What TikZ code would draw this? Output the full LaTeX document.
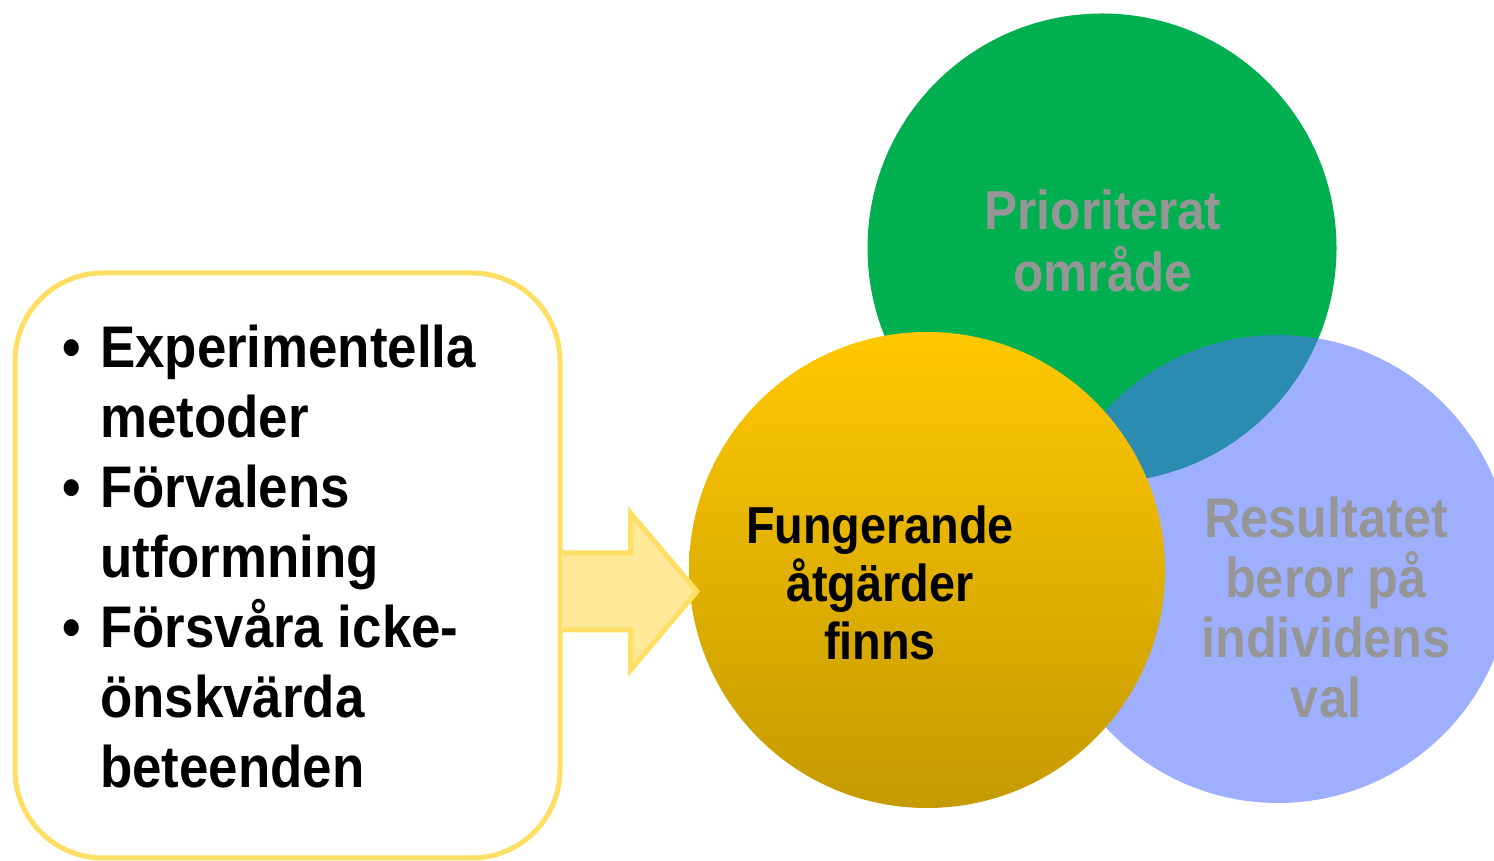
\documentclass[tikz,border=0pt]{standalone}
\usepackage{fontspec}
\setmainfont{Liberation Sans}[FakeStretch=0.9]
\usepackage{xcolor}
\usetikzlibrary{positioning,calc}

\definecolor{gulram}{RGB}{255,222,100}
\definecolor{gulpil}{RGB}{255,233,153}
\definecolor{gron}{RGB}{0,176,80}
\definecolor{bla}{RGB}{80,110,255}
\definecolor{gra}{RGB}{150,150,150}
\definecolor{gultopp}{RGB}{255,200,0}
\definecolor{gulbotten}{RGB}{196,154,0}

\begin{document}
\begin{tikzpicture}[x=1pt, y=1pt,
    cirkel/.style={circle, inner sep=0pt},
    rubrik/.style={align=center, inner sep=0pt, font=\bfseries}]
  \useasboundingbox (0,0) rectangle (1494,861);
  % Circles (green, blue, yellow)
  \node[cirkel, fill=gron, minimum size=469] (prio) at (1102,613) {};
  \node[cirkel, fill=bla, fill opacity=0.55, minimum size=468] (resultat) at (1278,292) {};
  \node[cirkel, top color=gultopp, bottom color=gulbotten, minimum size=476] (atgard) at (927,291) {};
  % Rounded box with the list
  \node[draw=gulram, line width=5pt, rounded corners=88pt, minimum width=545, minimum height=585] (ruta) at (287.5,295.5) {};
  \node[anchor=base west, align=left, inner sep=0pt, font=\fontsize{58.7}{70}\selectfont\bfseries] (lista) at (100,73)
    {\llap{\textbullet\hspace{19pt}}Experimentella\\ metoder\\
     \llap{\textbullet\hspace{19pt}}Förvalens\\ utformning\\
     \llap{\textbullet\hspace{19pt}}Försvåra icke-\\ önskvärda\\ beteenden};
  % Arrow
  \coordinate (spets) at (697,269.5);
  \path[fill=gulpil, draw=gulram, line width=5pt, line join=miter]
    ($(ruta.east |- spets)+(0,38.5)$) -- ++(68,0) -- ++(0,40) -- (spets)
    -- ($(ruta.east |- spets)+(68,-78.5)$) -- ++(0,40) -- ($(ruta.east |- spets)+(0,-38.5)$);
  % Circle texts
  \node[rubrik, text=gra, anchor=base, font=\fontsize{55}{62}\selectfont\bfseries] (prio-text) at (1103,569) {Prioriterat\\ område};
  \node[rubrik, text=gra, anchor=base, font=\fontsize{56}{60}\selectfont\bfseries] (resultat-text) at (1326,143) {Resultatet\\ beror på\\ individens\\ val};
  \node[rubrik, text=black, anchor=base, font=\fontsize{52}{58}\selectfont\bfseries] (atgard-text) at (880,201) {Fungerande\\ åtgärder\\ finns};
\end{tikzpicture}
\end{document}
